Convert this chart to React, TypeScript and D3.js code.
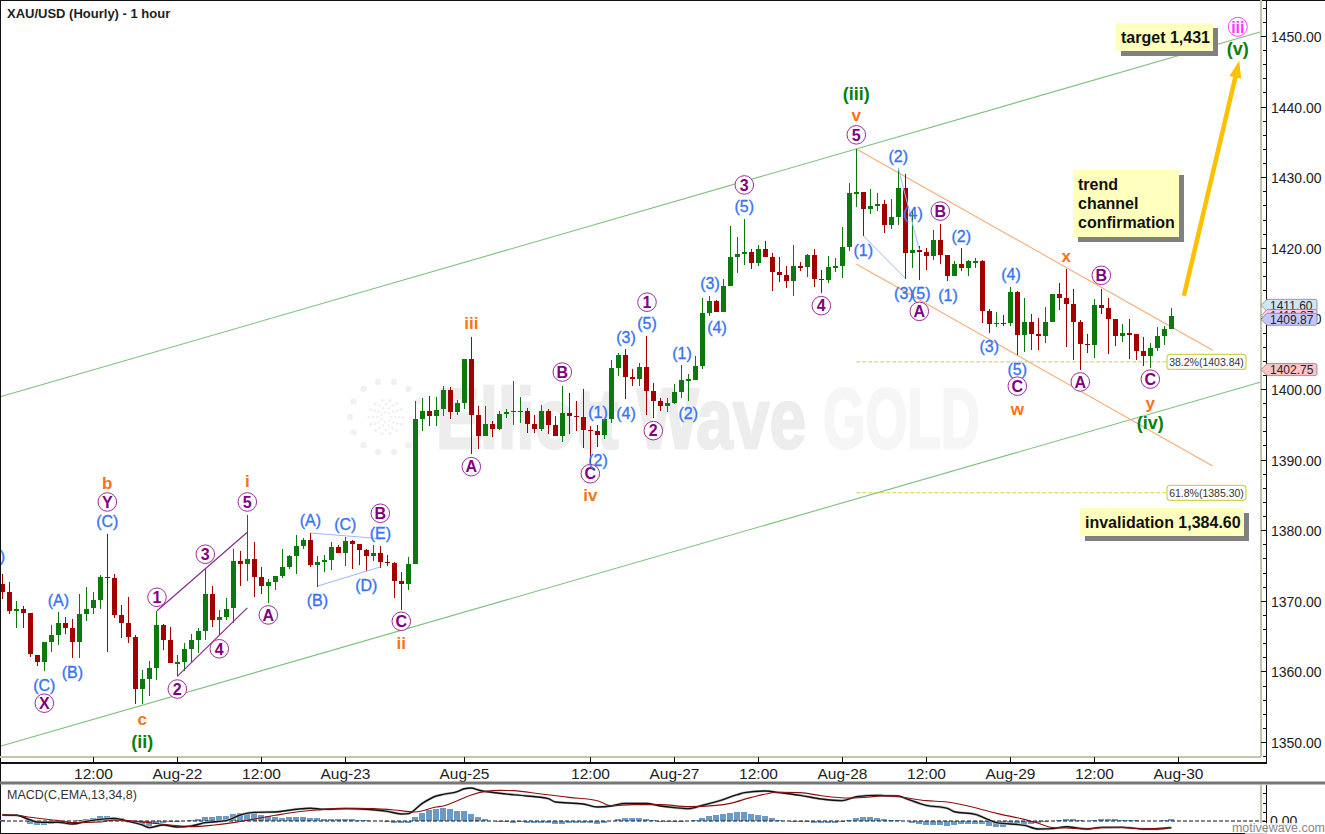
import React, { useEffect, useRef } from "react"
import * as d3 from "d3"

const opens = [
  1372.4, 1371.2, 1368.5, 1368.9, 1368.3, 1362.3, 1361.4, 1364.2, 1365.2, 1366.8,
  1366.1, 1364.2, 1368.2, 1369.0, 1370.1, 1373.4, 1373.2, 1368.0, 1366.8, 1364.9,
  1357.5, 1358.9, 1360.5, 1366.6, 1364.4, 1361.2, 1361.3, 1363.2, 1364.4, 1365.7,
  1371.0, 1367.3, 1367.7, 1369.0, 1375.6, 1375.2, 1375.9, 1373.4, 1372.1, 1372.7,
  1373.5, 1374.8, 1376.3, 1377.8, 1378.6, 1375.1, 1375.5, 1375.8, 1377.6, 1376.8,
  1378.5, 1378.0, 1377.2, 1376.3, 1376.8, 1375.5, 1375.3, 1372.8, 1372.4, 1375.2,
  1395.8, 1396.9, 1396.2, 1397.1, 1399.8, 1396.8, 1398.0, 1404.2, 1396.3, 1393.3,
  1395.0, 1394.3, 1396.4, 1396.7, 1396.7, 1396.9, 1395.0, 1394.3, 1396.9, 1394.9,
  1393.3, 1396.6, 1396.2, 1396.0, 1394.2, 1394.0, 1393.5, 1395.7, 1403.0, 1404.8,
  1401.7, 1401.4, 1403.1, 1399.7, 1398.3, 1397.6, 1398.0, 1399.6, 1401.2, 1401.3,
  1403.2, 1410.8, 1412.5, 1410.9, 1414.6, 1418.7, 1419.1, 1419.4, 1417.8, 1419.8,
  1418.7, 1416.6, 1416.1, 1415.3, 1417.4, 1417.3, 1419.0, 1415.6, 1415.4, 1417.3,
  1417.4, 1420.1, 1427.8, 1427.9, 1425.5, 1425.9, 1426.2, 1423.2, 1424.4, 1428.5,
  1419.3, 1419.7, 1419.4, 1418.9, 1421.1, 1419.0, 1416.0, 1417.7, 1417.1, 1418.0,
  1418.1, 1411.1, 1409.2, 1409.4, 1409.4, 1413.8, 1407.7, 1409.5, 1407.8, 1407.5,
  1409.5, 1413.5, 1412.9, 1412.1, 1409.5, 1406.4, 1406.2, 1411.9, 1411.5, 1409.9,
  1407.5, 1407.9, 1407.8, 1405.4, 1404.7, 1405.8, 1407.5, 1408.5
]

const highs = [
  1373.8, 1372.7, 1370.0, 1369.2, 1368.3, 1362.3, 1364.2, 1366.6, 1368.4, 1367.7,
  1367.4, 1371.0, 1371.9, 1371.3, 1373.7, 1379.5, 1373.8, 1369.4, 1370.5, 1365.2,
  1360.2, 1361.5, 1368.6, 1366.7, 1366.3, 1362.3, 1364.0, 1365.3, 1366.1, 1374.6,
  1372.1, 1368.7, 1370.4, 1377.3, 1377.1, 1382.1, 1378.3, 1374.8, 1373.1, 1373.5,
  1377.3, 1376.5, 1379.3, 1378.9, 1379.6, 1376.3, 1376.5, 1378.3, 1377.9, 1379.1,
  1378.6, 1378.0, 1377.3, 1377.9, 1377.8, 1376.5, 1375.5, 1374.1, 1376.2, 1398.3,
  1398.7, 1399.0, 1398.9, 1400.4, 1400.3, 1398.4, 1404.2, 1407.4, 1397.6, 1397.6,
  1395.5, 1396.9, 1397.2, 1401.1, 1398.9, 1397.3, 1396.3, 1397.7, 1397.2, 1396.2,
  1400.4, 1399.4, 1398.3, 1400.0, 1394.8, 1394.9, 1395.7, 1404.1, 1405.1, 1405.7,
  1402.8, 1403.7, 1407.5, 1400.8, 1398.7, 1398.7, 1400.7, 1403.4, 1402.1, 1404.7,
  1412.9, 1413.2, 1412.6, 1415.6, 1423.1, 1421.5, 1424.1, 1419.8, 1420.4, 1420.9,
  1419.2, 1418.7, 1417.4, 1420.4, 1418.0, 1419.1, 1419.8, 1416.8, 1418.8, 1418.5,
  1423.0, 1429.2, 1434.0, 1427.9, 1428.3, 1427.8, 1426.8, 1426.9, 1431.3, 1430.5,
  1425.4, 1420.3, 1420.0, 1422.5, 1423.4, 1419.0, 1418.1, 1420.0, 1418.3, 1418.6,
  1418.3, 1411.4, 1410.9, 1410.5, 1414.5, 1413.9, 1412.9, 1410.6, 1410.1, 1411.6,
  1413.5, 1415.0, 1417.0, 1414.2, 1409.8, 1407.8, 1412.8, 1414.2, 1412.9, 1409.9,
  1409.2, 1409.9, 1407.8, 1407.4, 1406.5, 1408.8, 1408.9, 1411.5
]

const lows = [
  1370.2, 1368.1, 1366.2, 1366.2, 1362.1, 1360.8, 1360.1, 1362.8, 1363.7, 1365.3,
  1361.9, 1361.9, 1367.2, 1368.2, 1368.9, 1362.7, 1367.6, 1364.8, 1364.0, 1355.4,
  1355.4, 1356.5, 1358.8, 1363.0, 1361.2, 1359.4, 1360.0, 1361.3, 1362.6, 1364.4,
  1366.3, 1365.2, 1367.3, 1366.8, 1372.1, 1372.8, 1370.5, 1371.0, 1369.7, 1371.5,
  1373.2, 1374.5, 1373.8, 1377.3, 1374.8, 1372.0, 1374.1, 1374.4, 1376.8, 1374.9,
  1374.5, 1375.1, 1374.2, 1375.6, 1374.7, 1374.9, 1370.4, 1368.7, 1371.5, 1375.2,
  1394.1, 1394.7, 1394.7, 1396.2, 1395.8, 1396.3, 1397.2, 1390.8, 1391.5, 1393.3,
  1393.2, 1394.2, 1395.9, 1394.9, 1395.2, 1393.8, 1393.8, 1394.0, 1393.6, 1393.3,
  1392.5, 1393.6, 1394.0, 1391.6, 1389.1, 1391.8, 1392.9, 1395.2, 1401.8, 1398.6,
  1400.4, 1400.4, 1396.3, 1395.9, 1396.9, 1396.7, 1397.9, 1398.7, 1398.3, 1401.3,
  1402.8, 1410.3, 1410.9, 1410.9, 1414.6, 1416.4, 1417.5, 1417.0, 1417.4, 1418.7,
  1413.9, 1415.1, 1414.3, 1413.2, 1416.7, 1415.8, 1414.4, 1413.6, 1415.0, 1416.6,
  1415.7, 1419.6, 1425.8, 1421.7, 1424.8, 1425.2, 1422.1, 1422.7, 1423.2, 1415.6,
  1417.1, 1415.4, 1416.9, 1418.3, 1417.7, 1415.3, 1416.0, 1416.7, 1416.0, 1417.1,
  1409.4, 1407.9, 1408.8, 1408.9, 1408.9, 1404.8, 1405.3, 1405.5, 1405.5, 1406.5,
  1409.5, 1411.2, 1406.0, 1404.1, 1402.7, 1405.1, 1404.4, 1410.6, 1405.0, 1406.1,
  1406.7, 1404.3, 1404.1, 1403.3, 1403.0, 1405.4, 1406.3, 1408.5
]

const closes = [
  1371.3, 1368.5, 1368.9, 1368.3, 1362.4, 1361.4, 1364.2, 1365.2, 1366.8, 1366.2,
  1364.2, 1368.1, 1368.9, 1370.1, 1373.4, 1373.3, 1368.0, 1366.9, 1364.9, 1357.5,
  1358.9, 1360.5, 1366.6, 1364.4, 1361.2, 1361.3, 1363.2, 1364.4, 1365.7, 1371.0,
  1367.3, 1367.7, 1368.9, 1375.6, 1375.2, 1375.9, 1373.4, 1372.1, 1372.6, 1373.5,
  1374.8, 1376.3, 1377.8, 1378.6, 1375.1, 1375.5, 1375.8, 1377.6, 1376.8, 1378.5,
  1378.1, 1377.2, 1376.3, 1376.8, 1375.5, 1375.4, 1372.8, 1372.4, 1375.2, 1395.7,
  1396.9, 1396.2, 1397.0, 1399.8, 1396.8, 1398.0, 1404.2, 1396.3, 1393.3, 1395.0,
  1394.3, 1396.4, 1396.7, 1396.9, 1396.9, 1395.0, 1394.3, 1396.9, 1394.9, 1393.3,
  1396.6, 1396.2, 1396.0, 1394.2, 1394.1, 1393.5, 1395.7, 1403.0, 1404.8, 1401.7,
  1401.4, 1403.1, 1399.7, 1398.3, 1397.6, 1398.0, 1399.6, 1401.3, 1401.4, 1403.2,
  1410.8, 1412.5, 1410.9, 1414.6, 1418.7, 1419.1, 1419.4, 1417.8, 1419.8, 1418.7,
  1416.6, 1416.1, 1415.3, 1417.4, 1417.3, 1419.0, 1415.6, 1415.5, 1417.3, 1417.4,
  1420.1, 1427.8, 1427.9, 1425.5, 1425.9, 1426.2, 1423.2, 1424.4, 1428.5, 1419.3,
  1419.7, 1419.4, 1418.9, 1421.1, 1419.0, 1416.0, 1417.7, 1417.1, 1418.1, 1418.1,
  1411.1, 1409.2, 1409.4, 1409.2, 1413.8, 1407.7, 1409.5, 1407.8, 1407.5, 1409.5,
  1413.5, 1412.9, 1412.1, 1409.5, 1406.4, 1406.2, 1411.9, 1411.5, 1409.9, 1407.5,
  1407.9, 1407.8, 1405.4, 1404.7, 1405.8, 1407.5, 1408.5, 1410.3
]

const macdHist = [
  0.11, 0, 0, 0, -0.29, -0.47, -0.43, -0.29, -0.18, -0.11,
  0, 0.11, 0.22, 0.36, 0.54, 0.54, 0.4, 0.29, 0, -0.22,
  -0.43, -0.58, -0.29, -0.18, -0.11, -0.07, 0, 0.11, 0.22, 0.43,
  0.43, 0.54, 0.54, 0.76, 0.83, 0.8, 0.87, 0.65, 0.54, 0.43,
  0.36, 0.4, 0.43, 0.43, 0.33, 0.33, 0.22, 0.22, 0.22, 0.22,
  0.18, 0.11, 0.07, 0, 0, -0.11, -0.22, -0.22, -0.18, 0.43,
  0.87, 1.2, 1.3, 1.41, 1.3, 1.12, 1.12, 0.76, 0.4, 0.18,
  0, -0.14, -0.14, -0.22, -0.14, -0.25, -0.22, -0.22, -0.22, -0.36,
  -0.36, -0.22, -0.22, -0.22, -0.22, -0.33, -0.22, 0, 0.22, 0.33,
  0.33, 0.33, 0.22, 0.11, -0.14, -0.11, -0.11, -0.11, 0, 0.11,
  0.33, 0.54, 0.65, 0.76, 0.91, 0.98, 0.98, 0.76, 0.65, 0.54,
  0.33, 0.11, 0, -0.11, -0.11, -0.11, -0.22, -0.18, -0.18, -0.18,
  -0.11, 0.11, 0.33, 0.43, 0.43, 0.33, 0.18, 0.14, 0.11, 0,
  -0.22, -0.33, -0.43, -0.4, -0.4, -0.51, -0.43, -0.36, -0.36, -0.29,
  -0.36, -0.54, -0.65, -0.65, -0.36, -0.43, -0.54, -0.36, -0.22, -0.11,
  0, 0.11, 0.22, 0.22, 0.11, 0, 0.11, 0.18, 0.22, 0.18,
  0.11, 0.11, 0.11, 0, 0, 0, 0.11, 0.18
]

const macdBars = [
  0, 2, 4, 5, 6, 8, 10, 12, 14, 16, 18, 20, 21, 23, 25, 27, 29, 32, 34, 36,
  39, 42, 44, 46, 49, 52, 55, 57, 58, 60, 62, 63, 65, 66, 67, 68, 71, 75, 78, 79,
  83, 85, 87, 89, 92, 94, 96, 98, 100, 102, 105, 106, 109, 111, 114, 117, 120, 122, 125, 126,
  128, 129, 132, 135, 136, 139, 141, 142, 146, 148, 150, 152, 155, 157, 160, 163, 165, 167
]
const macdLine = [
  0.65, 0.62, 0.11, -0.11, -0.14, -0.14, -0.33, -0.04, 0.18, 0.29, -0.04, -0.43, -0.72, -0.43, -0.65, -0.54, -0.18, 0.04, 0.65, 0.94,
  0.98, 1.27, 1.38, 1.27, 1.34, 1.27, 1.05, 0.76, 0.8, 1.92, 2.72, 2.9, 3.19, 3.51, 3.59, 3.37, 3.01, 2.72, 2.43, 2.07,
  1.85, 1.52, 1.63, 1.92, 1.92, 1.63, 1.45, 1.34, 1.7, 2.1, 2.86, 3.08, 3.26, 3.08, 2.79, 2.39, 2.21, 2.64, 2.79, 2.75,
  2.72, 2.46, 1.7, 1.38, 1.01, 0.72, 0.11, -0.18, -0.47, -0.87, -0.83, -0.62, -0.87, -0.69, -0.69, -0.87, -0.87, -0.72
]

const signalBars = [
  0, 2, 4, 8, 10, 14, 16, 18, 21, 24, 27, 30, 33, 36, 39, 42, 45, 49, 53, 56,
  59, 62, 63, 65, 67, 69, 71, 73, 77, 81, 85, 87, 90, 94, 98, 102, 104, 107, 111, 114,
  117, 121, 124, 126, 128, 132, 135, 139, 142, 146, 148, 150, 152, 155, 157, 160, 163, 167
]
const signalLine = [
  0.65, 0.62, 0.4, 0.04, -0.18, -0.11, 0.11, 0.04, -0.18, -0.43, -0.62, -0.47, -0.18, 0.22, 0.62, 0.98, 1.2, 1.38, 1.34, 1.2,
  0.98, 1.52, 1.63, 2.21, 2.83, 3.22, 3.33, 3.3, 2.93, 2.57, 2.21, 1.67, 1.78, 1.78, 1.56, 1.7, 1.92, 2.57, 3.12, 3.08,
  2.75, 2.5, 2.61, 2.75, 2.64, 2.21, 2.07, 1.45, 0.83, 0.18, -0.25, -0.72, -0.76, -0.87, -0.72, -0.69, -0.87, -0.72
]

const timeTickBars = [13, 25, 37, 49, 66, 84, 96, 108, 120, 132, 144, 156, 168]
const timeTickLabels = [
  "12:00", "Aug-22", "12:00", "Aug-23", "Aug-25", "12:00", "Aug-27",
  "12:00", "Aug-28", "12:00", "Aug-29", "12:00", "Aug-30"
]
const priceTicks = [1350, 1360, 1370, 1380, 1390, 1400, 1410, 1420, 1430, 1440, 1450]

type Label = [string, number, number]

// wave labels: text, bar, price
const circledLabels: Label[] = [
  ["Y", 15, 1384.0], ["X", 6, 1355.5], ["1", 22.1, 1370.5], ["2", 25, 1357.5],
  ["3", 29, 1376.6], ["4", 31, 1363.2], ["5", 35, 1384.0], ["A", 38, 1368.0],
  ["B", 54, 1382.4], ["C", 57, 1367.1], ["A", 67, 1389.0], ["B", 80, 1402.4],
  ["C", 84, 1388.0], ["1", 92.1, 1412.3], ["2", 93, 1394.1], ["3", 106, 1428.9],
  ["4", 117, 1411.8], ["5", 122, 1436.0], ["A", 131, 1411.0], ["B", 134, 1425.2],
  ["C", 145, 1400.4], ["A", 154, 1401.0], ["B", 157, 1416.1], ["C", 164, 1401.4]
]
const blueLabels: Label[] = [
  ["(C)", 15, 1381.2], ["(C)", 6, 1358.1], ["(A)", 8, 1370.1], ["(B)", 10, 1359.9],
  ["(A)", 44, 1381.4], ["(C)", 49, 1380.9], ["(E)", 54, 1379.5], ["(D)", 52, 1372.2],
  ["(B)", 45, 1370.1], [")", 0, 1376.3], ["(1)", 85.1, 1396.7], ["(2)", 85.1, 1389.9],
  ["(4)", 89.1, 1396.6], ["(3)", 89.1, 1407.4], ["(5)", 92.1, 1409.3], ["(2)", 98, 1396.5],
  ["(1)", 97.1, 1405.1], ["(3)", 101.1, 1415.0], ["(4)", 102.1, 1408.8], ["(5)", 106, 1425.9],
  ["(2)", 128, 1433.0], ["(4)", 130.1, 1424.9], ["(1)", 123, 1419.7], ["(3)", 128.8, 1413.6],
  ["(5)", 131.2, 1413.6], ["(1)", 135.1, 1413.3], ["(2)", 137, 1421.7], ["(4)", 144.1, 1416.3],
  ["(3)", 141, 1406.1], ["(5)", 145, 1402.8]
]
const orangeLabels: Label[] = [
  ["b", 15, 1386.7], ["i", 35, 1387.0], ["c", 20, 1353.3], ["ii", 57, 1364.0],
  ["iii", 67, 1409.3], ["iv", 84, 1385.0], ["v", 122, 1438.8], ["w", 145, 1397.2],
  ["x", 152, 1418.8], ["y", 164, 1398.0]
]
const greenLabels: Label[] = [
  ["(ii)", 20, 1350.0], ["(iii)", 122, 1441.9], ["(iv)", 164, 1395.2], ["(v)", 176.5, 1448.2]
]

// trend lines: bar, price, bar, price
const greenChannel = [
  [-0.3, 1398.9, 179.8, 1450.6],
  [-0.3, 1349.4, 179.8, 1401.0]
]
const orangeChannel = [
  [122, 1434.0, 172.9, 1405.5],
  [122, 1417.7, 172.9, 1389.1]
]
const purpleLines = [
  [22.1, 1368.6, 35, 1379.7],
  [25, 1359.3, 35, 1369.0]
]
const blueLines = [
  [44.1, 1379.6, 54, 1378.8],
  [45.1, 1372.1, 54, 1374.8],
  [123, 1421.7, 129, 1415.7],
  [128, 1431.3, 131, 1419.7]
]
const targetArrow = [168.8, 1413.2, 176.7, 1446.5]

const fibPrices = [1403.84, 1385.3]
const fibLabels = ["38.2%(1403.84)", "61.8%(1385.30)"]
const fibColors = ["#c9c77a", "#d8d33c"]

const sans = "'Liberation Sans', Arial, sans-serif"

const App = () => {
  const ref = useRef<SVGSVGElement>(null)

  useEffect(() => {
    const svg = d3.select(ref.current)
    svg.selectAll("*").remove()

    const xScale = d3.scaleLinear().domain([0, 168]).range([2.3, 1178.3])
    const yScale = d3.scaleLinear().domain([1350, 1450]).range([742, 36])
    const macdScale = d3.scaleLinear().domain([0, 1]).range([821, 811.8])

    const plotRight = 1261
    const axisRight = 1266.5
    const timeY = 757
    const axisY = 763
    const dividerY = 783
    const bottomY = 833

    const plot = svg.append("g")

    // watermark
    const mark = plot.append("g")
    const rings: [number, number, number][] = [
      [36, 14, 3.2],
      [17, 14, 1.6],
      [13, 12, 1.5],
      [9, 10, 1.4],
      [5, 7, 1.3]
    ]
    rings.forEach(([r, count, size]) => {
      d3.range(count).forEach(k => {
        const a = (k / count) * 2 * Math.PI
        mark
          .append("circle")
          .attr("cx", 386 + r * Math.cos(a))
          .attr("cy", 417 + r * Math.sin(a))
          .attr("r", size)
          .attr("fill", "#f1f1f1")
      })
    })
    mark
      .append("text")
      .text("Elliott Wave")
      .attr("x", 436)
      .attr("y", 448)
      .attr("textLength", 370)
      .attr("lengthAdjust", "spacingAndGlyphs")
      .attr("font-family", sans)
      .attr("font-weight", "bold")
      .attr("font-size", 86)
      .attr("stroke", "#ededed")
      .attr("stroke-width", 2.5)
      .attr("fill", "#ededed")
    mark
      .append("text")
      .text("GOLD")
      .attr("x", 823)
      .attr("y", 448)
      .attr("textLength", 157)
      .attr("lengthAdjust", "spacingAndGlyphs")
      .attr("font-family", sans)
      .attr("font-weight", "bold")
      .attr("font-size", 86)
      .attr("stroke", "#f6f6f6")
      .attr("stroke-width", 2.5)
      .attr("fill", "#f6f6f6")

    // title
    plot
      .append("text")
      .text("XAU/USD (Hourly) - 1 hour")
      .attr("x", 7)
      .attr("y", 17.5)
      .attr("font-family", sans)
      .attr("font-weight", "bold")
      .attr("font-size", 13)
      .attr("fill", "#222")

    const drawLines = (rows: number[][], color: string, width: number) => {
      plot
        .append("g")
        .selectAll("line")
        .data(rows)
        .enter()
        .append("line")
        .attr("x1", d => xScale(d[0]))
        .attr("y1", d => yScale(d[1]))
        .attr("x2", d => xScale(d[2]))
        .attr("y2", d => yScale(d[3]))
        .attr("stroke", color)
        .attr("stroke-width", width)
    }

    drawLines(greenChannel, "#7fbf7f", 1.1)
    drawLines(orangeChannel, "#f7ab72", 1.1)

    // fib lines and their tags
    fibPrices.forEach((p, k) => {
      const y = yScale(p)
      plot
        .append("line")
        .attr("x1", xScale(122))
        .attr("x2", 1167)
        .attr("y1", y)
        .attr("y2", y)
        .attr("stroke", fibColors[k])
        .attr("stroke-dasharray", "4 2")
      plot
        .append("rect")
        .attr("x", 1167)
        .attr("y", y - 7.5)
        .attr("width", 79)
        .attr("height", 15)
        .attr("rx", 3)
        .attr("fill", "white")
        .attr("stroke", "#d6d14e")
        .attr("stroke-width", 1.2)
      plot
        .append("text")
        .text(fibLabels[k])
        .attr("x", 1206.5)
        .attr("y", y + 3.8)
        .attr("text-anchor", "middle")
        .attr("font-family", sans)
        .attr("font-size", 10.5)
        .attr("fill", "#333")
    })

    // candles
    const candles = plot.append("g").attr("shape-rendering", "crispEdges")
    opens.forEach((o, i) => {
      const c = closes[i]
      const color = c >= o ? "#0d780d" : "#a30000"
      const x = Math.round(xScale(i))
      candles
        .append("rect")
        .attr("x", x)
        .attr("y", yScale(highs[i]))
        .attr("width", 1)
        .attr("height", yScale(lows[i]) - yScale(highs[i]))
        .attr("fill", color)
      const top = yScale(Math.max(o, c))
      candles
        .append("rect")
        .attr("x", x - 2)
        .attr("y", top)
        .attr("width", 5)
        .attr("height", Math.max(1.5, yScale(Math.min(o, c)) - top))
        .attr("fill", color)
    })

    drawLines(purpleLines, "#8a2a8a", 1.2)
    drawLines(blueLines, "#9db9f5", 1)

    // yellow target arrow
    const [ax, ay, bx, by] = [
      xScale(targetArrow[0]),
      yScale(targetArrow[1]),
      xScale(targetArrow[2]),
      yScale(targetArrow[3])
    ]
    const len = Math.hypot(bx - ax, by - ay)
    const ux = (bx - ax) / len
    const uy = (by - ay) / len
    plot
      .append("line")
      .attr("x1", ax)
      .attr("y1", ay)
      .attr("x2", bx - ux * 12)
      .attr("y2", by - uy * 12)
      .attr("stroke", "#ffc000")
      .attr("stroke-width", 4.5)
    plot
      .append("path")
      .attr(
        "d",
        `M${bx},${by}L${bx - ux * 17 - uy * 6},${by - uy * 17 + ux * 6}L${bx - ux * 17 + uy * 6},${by - uy * 17 - ux * 6}Z`
      )
      .attr("fill", "#ffc000")

    // callouts
    const callout = (x: number, y: number, w: number, h: number, lines: string[]) => {
      plot
        .append("rect")
        .attr("x", x + 5)
        .attr("y", y + 5)
        .attr("width", w)
        .attr("height", h)
        .attr("fill", "#808080")
      plot
        .append("rect")
        .attr("x", x)
        .attr("y", y)
        .attr("width", w)
        .attr("height", h)
        .attr("fill", "#ffffbe")
      lines.forEach((t, k) => {
        plot
          .append("text")
          .text(t)
          .attr("x", x + 5)
          .attr("y", y + h / 2 + 5.5 + (k - (lines.length - 1) / 2) * 19)
          .attr("font-family", sans)
          .attr("font-weight", "bold")
          .attr("font-size", 16)
          .attr("fill", "#111")
      })
    }
    callout(1116, 23, 97, 28, ["target 1,431"])
    callout(1073, 170, 106, 67, ["trend", "channel", "confirmation"])
    callout(1080, 508, 164, 28, ["invalidation 1,384.60"])

    // wave labels
    const drawLabels = (rows: Label[], color: string, size: number, weight = "bold", outline = 0) => {
      plot
        .append("g")
        .selectAll("text")
        .data(rows)
        .enter()
        .append("text")
        .text(d => d[0])
        .attr("x", d => xScale(d[1]))
        .attr("y", d => yScale(d[2]))
        .attr("dy", "0.36em")
        .attr("text-anchor", "middle")
        .attr("font-family", sans)
        .attr("font-weight", weight)
        .attr("font-size", size)
        .attr("fill", color)
        .attr("stroke", outline ? color : "none")
        .attr("stroke-width", outline)
    }
    plot
      .append("g")
      .selectAll("circle")
      .data(circledLabels)
      .enter()
      .append("circle")
      .attr("cx", d => xScale(d[1]))
      .attr("cy", d => yScale(d[2]))
      .attr("r", 9.3)
      .attr("fill", "white")
      .attr("stroke", "#9a2f9a")
    drawLabels(circledLabels, "#800080", 16)
    drawLabels(blueLabels, "#3a74f0", 16, "normal", 0.35)
    drawLabels(orangeLabels, "#f97316", 17)
    drawLabels(greenLabels, "#0a800a", 18)
    plot
      .append("circle")
      .attr("cx", xScale(176.5))
      .attr("cy", yScale(1451.3))
      .attr("r", 9.5)
      .attr("fill", "white")
      .attr("stroke", "#ff40ff")
    drawLabels([["iii", 176.5, 1451.3]], "#ff33ff", 16)

    // frame and axes
    const frame = svg.append("g").attr("shape-rendering", "crispEdges")
    const rule = (x1: number, y1: number, x2: number, y2: number, color: string, w = 1) =>
      frame
        .append("line")
        .attr("x1", x1)
        .attr("y1", y1)
        .attr("x2", x2)
        .attr("y2", y2)
        .attr("stroke", color)
        .attr("stroke-width", w)

    rule(0, 0.5, 1325, 0.5, "#111")
    rule(0.5, 0, 0.5, bottomY, "#111")
    rule(plotRight, 0, plotRight, timeY, "#c4c4b0", 2)
    rule(0, timeY, plotRight, timeY, "#c4c4b0", 2)
    rule(axisRight, 0, axisRight, axisY, "#111")
    rule(0, axisY, axisRight, axisY, "#111", 1.5)

    const axisText = (t: string, x: number, y: number, size: number, anchor: string) =>
      svg
        .append("text")
        .text(t)
        .attr("x", x)
        .attr("y", y)
        .attr("text-anchor", anchor)
        .attr("font-family", sans)
        .attr("font-size", size)
        .attr("fill", "#222")

    // price axis, minor ticks every 2
    d3.range(1346, 1456, 2).forEach(p => {
      const y = Math.round(yScale(p)) + 0.5
      if (y > 2 && y < timeY) rule(axisRight - 4, y, axisRight, y, "#111")
    })
    priceTicks.forEach(p => {
      const y = Math.round(yScale(p)) + 0.5
      rule(plotRight, y, axisRight, y, "#111")
      axisText(d3.format(".2f")(p), 1271, y + 5, 14, "start")
    })

    // time axis
    timeTickBars.forEach((b, k) => {
      const x = Math.round(xScale(b)) + 0.5
      rule(x, timeY, x, axisY, "#111")
      axisText(timeTickLabels[k], x, 778.5, 15.5, "middle")
    })

    // last price tags
    const tags: [string, number, string][] = [
      ["1411.60", 1411.85, "#cfe6f5"],
      ["1410.87", 1410.4, "#ffc9ee"],
      ["1409.87", 1409.87, "#c6c6ff"],
      ["1402.75", 1402.75, "#ffc4c4"]
    ]
    tags.forEach(([t, p, color]) => {
      const y = yScale(p)
      svg
        .append("path")
        .attr(
          "d",
          `M1261,${y}L1267,${y - 6}H1315q2,0 2,2V${y + 4}q0,2 -2,2H1267Z`
        )
        .attr("fill", color)
        .attr("stroke", "#777")
        .attr("stroke-width", 0.7)
      axisText(t, 1270, y + 4.5, 12, "start")
    })

    // divider and MACD panel
    svg
      .append("rect")
      .attr("x", 0)
      .attr("y", dividerY - 1.5)
      .attr("width", 1325)
      .attr("height", 3)
      .attr("fill", "#777")

    const macd = svg.append("g")
    macd
      .append("text")
      .text("MACD(C,EMA,13,34,8)")
      .attr("x", 7)
      .attr("y", 799)
      .attr("font-family", sans)
      .attr("font-size", 12.5)
      .attr("fill", "#333")

    macd
      .append("g")
      .attr("shape-rendering", "crispEdges")
      .selectAll("rect")
      .data(macdHist)
      .enter()
      .append("rect")
      .attr("x", (_, i) => xScale(i) - 3)
      .attr("y", d => Math.min(macdScale(d), macdScale(0)))
      .attr("width", 6)
      .attr("height", d => Math.abs(macdScale(d) - macdScale(0)))
      .attr("fill", "#6b9bc5")

    macd
      .append("line")
      .attr("x1", 1)
      .attr("x2", axisRight)
      .attr("y1", macdScale(0))
      .attr("y2", macdScale(0))
      .attr("stroke", "#111")
      .attr("stroke-dasharray", "4 2")

    const pathOf = (bars: number[], values: number[]) =>
      d3
        .line<number>()
        .x(d => xScale(d))
        .y((_, i) => macdScale(values[i]))
        .curve(d3.curveMonotoneX)(bars)

    macd
      .append("path")
      .attr("d", pathOf(macdBars, macdLine))
      .attr("fill", "none")
      .attr("stroke", "#bdbdbd")
      .attr("stroke-width", 2.6)
    macd
      .append("path")
      .attr("d", pathOf(macdBars, macdLine))
      .attr("fill", "none")
      .attr("stroke", "#111")
      .attr("stroke-width", 1.4)
    macd
      .append("path")
      .attr("d", pathOf(signalBars, signalLine))
      .attr("fill", "none")
      .attr("stroke", "#8b0f0f")
      .attr("stroke-width", 1.1)

    const macdFrame = svg.append("g").attr("shape-rendering", "crispEdges")
    const macdRule = (x1: number, y1: number, x2: number, y2: number, color: string, w = 1) =>
      macdFrame
        .append("line")
        .attr("x1", x1)
        .attr("y1", y1)
        .attr("x2", x2)
        .attr("y2", y2)
        .attr("stroke", color)
        .attr("stroke-width", w)
    macdRule(plotRight, dividerY + 1.5, plotRight, bottomY, "#c4c4b0", 2)
    macdRule(axisRight, dividerY + 1.5, axisRight, bottomY, "#111")
    macdRule(0, bottomY, axisRight, bottomY, "#111")
    d3.range(-1, 4).forEach(v => {
      const y = Math.round(macdScale(v)) + 0.5
      macdRule(axisRight - 4, y, axisRight, y, "#111")
    })
    axisText("0.00", 1270, macdScale(0) + 5, 14, "start")

    svg
      .append("rect")
      .attr("x", 1245)
      .attr("y", 823)
      .attr("width", 80)
      .attr("height", 11)
      .attr("fill", "white")
      .attr("opacity", 0.8)
    svg
      .append("text")
      .text("motivewave.com")
      .attr("x", 1325)
      .attr("y", 832)
      .attr("text-anchor", "end")
      .attr("font-family", sans)
      .attr("font-size", 12.5)
      .attr("fill", "#888")
  }, [])

  return (
    <svg
      ref={ref}
      width={1325}
      height={834}
      style={{ position: "absolute", left: 0, top: 0, background: "white", display: "block" }}
    ></svg>
  )
}

export default App
